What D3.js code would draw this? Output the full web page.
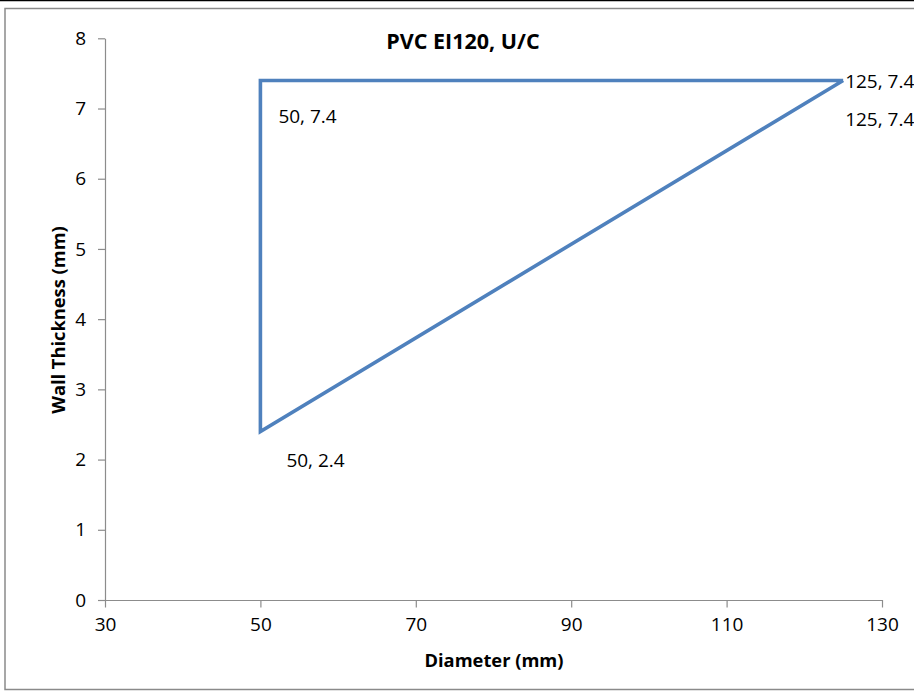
<!DOCTYPE html>
<html>
<head>
<meta charset="utf-8">
<script src="https://cdn.jsdelivr.net/npm/d3@7"></script>
<style>
  html, body { margin: 0; padding: 0; background: #fff; }
  svg { display: block; }
  text { font-family: "Open Sans", "Noto Sans", sans-serif; fill: #000; }
</style>
</head>
<body>
<svg id="chart" width="914" height="691"></svg>
<script>
// Outline of the PVC EI120 U/C region, traced in drawing order
const diameter = [125, 50, 50, 125];
const wallThickness = [7.4, 7.4, 2.4, 7.4];
// Offset of each point's data label from its point (px)
const labelOffsetX = [2, 18, 26, 2];
const labelOffsetY = [8, 43, 36, 46];

const xTicks = [30, 50, 70, 90, 110, 130];
const yTicks = [0, 1, 2, 3, 4, 5, 6, 7, 8];

const chartTitle = "PVC EI120, U/C";
const xTitle = "Diameter (mm)";
const yTitle = "Wall Thickness (mm)";

const svg = d3.select("#chart");

// Frame: thin black rule on top, grey chart border
svg.append("line").attr("x1", 0).attr("x2", 914).attr("y1", 0.5).attr("y2", 0.5)
  .attr("stroke", "#000").attr("stroke-width", 1.5);
svg.append("rect").attr("x", 5).attr("y", 8.5).attr("width", 920).attr("height", 681)
  .attr("fill", "none").attr("stroke", "#8a8a8a").attr("stroke-width", 1.5);

const x = d3.scaleLinear().domain([30, 130]).range([105, 882]);
const y = d3.scaleLinear().domain([0, 8]).range([600, 38.3]);

const axisColor = "#8c8c8c";

// Y axis
const yAxis = svg.append("g").attr("transform", `translate(${x(30)},0)`)
  .call(d3.axisLeft(y).tickValues(yTicks).tickSize(7).tickSizeOuter(0).tickPadding(12)
    .tickFormat(d3.format("d")));
yAxis.select(".domain").attr("stroke", axisColor).attr("stroke-width", 1.2);
yAxis.selectAll(".tick line").attr("stroke", axisColor).attr("stroke-width", 1.2);
yAxis.selectAll(".tick text").attr("font-size", 19).attr("fill", "#000")
  .attr("font-family", "'Open Sans', sans-serif");

// X axis
const xAxis = svg.append("g").attr("transform", `translate(0,${y(0)})`)
  .call(d3.axisBottom(x).tickValues(xTicks).tickSize(7.5).tickSizeOuter(0).tickPadding(10)
    .tickFormat(d3.format("d")));
xAxis.select(".domain").attr("stroke", axisColor).attr("stroke-width", 1.2);
xAxis.selectAll(".tick line").attr("stroke", axisColor).attr("stroke-width", 1.2);
xAxis.selectAll(".tick text").attr("font-size", 19).attr("fill", "#000")
  .attr("font-family", "'Open Sans', sans-serif");

// Series line
const pts = diameter.map((d, i) => ({ x: d, y: wallThickness[i], i }));
const line = d3.line().x(d => x(d.x)).y(d => y(d.y));
svg.append("path").datum(pts).attr("d", line)
  .attr("fill", "none").attr("stroke", "#4f81bd").attr("stroke-width", 3.6)
  .attr("stroke-linejoin", "miter");

// Data labels
svg.append("g").selectAll("text").data(pts).join("text")
  .attr("x", d => x(d.x) + labelOffsetX[d.i])
  .attr("y", d => y(d.y) + labelOffsetY[d.i])
  .attr("font-size", 19)
  .text(d => `${d.x}, ${d.y}`);

// Titles
svg.append("text").attr("x", 463).attr("y", 49).attr("text-anchor", "middle")
  .attr("font-size", 21.5).attr("font-weight", "bold").text(chartTitle);
svg.append("text").attr("x", 494).attr("y", 667).attr("text-anchor", "middle")
  .attr("font-size", 18.3).attr("font-weight", "bold").text(xTitle);
svg.append("text").attr("transform", "translate(65,320) rotate(-90)")
  .attr("text-anchor", "middle")
  .attr("font-size", 18.3).attr("font-weight", "bold").text(yTitle);
</script>
</body>
</html>
